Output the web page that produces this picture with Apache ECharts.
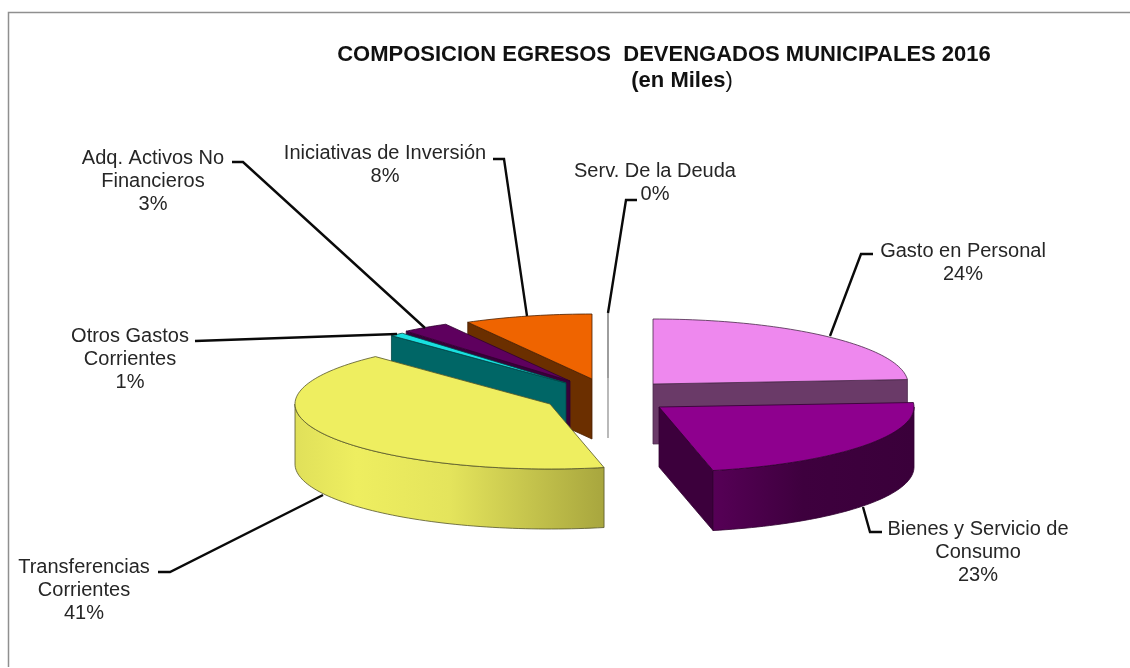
<!DOCTYPE html>
<html>
<head>
<meta charset="utf-8">
<style>html,body{margin:0;padding:0;background:#fff}#c{width:1130px;height:668px}</style>
<script src="https://cdn.jsdelivr.net/npm/echarts@6/dist/echarts.min.js"></script>
</head>
<body>
<div id="c"></div>
<script>
// ---- data ----
const categories = ['Gasto en Personal','Bienes y Servicio de\nConsumo','Transferencias\nCorrientes','Otros Gastos\nCorrientes','Adq. Activos No\nFinancieros','Iniciativas de Inversión','Serv. De la Deuda'];
const percentages = [23.9, 22.7, 41.4, 0.9, 3.0, 8.1, 0];

// ---- layout of the exploded 3D pie ----
const RX = 255, RY = 65, DEPTH = 60;
const centers = [[653,384],[659,407],[550,404],[566,383],[570,381],[592,379],[608,378]];
const paintOrder = [5, 6, 4, 3, 2, 0, 1]; // higher is nearer to the viewer
const labelAnchors = [[963,239.5],[978,517.5],[84,555.5],[130,324.5],[153,146.5],[385,141.5],[655,159.5]];
const leaders = [
  [[830,336],[861,254],[873,254]],
  [[863,507],[870,532],[882,532]],
  [[323,495],[170,572],[158,572]],
  [[397,334],[195,341]],
  [[425,328],[243,162],[232,162]],
  [[527,316],[504,159],[493,159]],
  [[608,313],[626,200],[637,200]]
];
// ---- colours ----
const topColors = ['#ee88ee','#8e008e','#eeee60','#19e0e0','#5e005e','#ef6400','#ffffff'];
const faceColors = ['#6a3a68','#3c003c','#eeee60','#006666','#38003a','#6b2f00','#ffffff'];
const wallStops = [
  [['#6a3a68',0],['#6a3a68',1]],
  [['#560056',0],['#3e003e',0.45],['#3a003a',1]],
  [['#e0e05a',0],['#eeee60',0.2],['#e4e45c',0.5],['#a8a63e',1]],
  [['#006666',0],['#006666',1]],
  [['#38003a',0],['#38003a',1]],
  [['#6b2f00',0],['#6b2f00',1]],
  [['#ffffff',0],['#ffffff',1]]
];
const strokes = ['#4a2a4a','#300030','#55552a','#004848','#300030','#4a2000','#8c8c8c'];

const total = percentages.reduce((a,b)=>a+b,0);
const startPct = percentages.map((_,i)=>percentages.slice(0,i).reduce((a,b)=>a+b,0));

function pt(c, deg, dy){
  const r = deg*Math.PI/180;
  return [c[0]+RX*Math.sin(r), c[1]-RY*Math.cos(r)+(dy||0)];
}
function arc(c, a, b, dy){
  const out=[], n=Math.max(2,Math.ceil(Math.abs(b-a)/1.5));
  for(let k=0;k<=n;k++) out.push(pt(c,a+(b-a)*k/n,dy));
  return out;
}
function renderItem(params, api){
  const i = api.value(0), v = api.value(1);
  const a = startPct[i]/total*360, b = a+v/total*360, c = centers[i];
  const z = paintOrder[i]*10;
  const sk = strokes[i], lw = v===0?1.2:0.8;
  const kids = [];
  const poly = (points, fill, zz) => ({type:'polygon', z2:z+zz, shape:{points}, style:{fill, stroke:sk, lineWidth:lw}});
  const low = [c[0],c[1]+DEPTH];
  // flat side faces: only those turned toward the viewer
  const sa = Math.sin(a*Math.PI/180), sb = Math.sin(b*Math.PI/180);
  if(v===0 || sa<-1e-6) kids.push(poly([c,pt(c,a),pt(c,a,DEPTH),low], faceColors[i], 0));
  if(sb>1e-6) kids.push(poly([c,pt(c,b),pt(c,b,DEPTH),low], faceColors[i], 0));
  // curved outer wall (only the part that faces the viewer)
  const w0 = Math.max(a,90), w1 = Math.min(b,270);
  if(w1>w0){
    const up = arc(c,w0,w1,0), dn = arc(c,w0,w1,DEPTH).reverse();
    const x0 = Math.min(...up.map(p=>p[0])), x1 = Math.max(...up.map(p=>p[0]));
    kids.push({type:'polygon', z2:z+1, shape:{points:up.concat(dn)}, style:{
      fill:new echarts.graphic.LinearGradient(x0,0,x1,0,wallStops[i].map(s=>({color:s[0],offset:s[1]})),true),
      stroke:sk, lineWidth:lw}});
  }
  // top surface
  kids.push(poly([c].concat(arc(c,a,b,0)), topColors[i], 2));
  // leader line and label
  kids.push({type:'polyline', z2:200, shape:{points:leaders[i]}, style:{fill:null, stroke:'#0a0a0a', lineWidth:2.4}});
  kids.push({type:'text', z2:210, style:{
    x:labelAnchors[i][0], y:labelAnchors[i][1],
    text:categories[i]+'\n'+Math.round(v)+'%',
    fill:'#262626', font:'20px "Liberation Sans", Arial, sans-serif',
    align:'center', verticalAlign:'top', lineHeight:23}});
  return {type:'group', children:kids};
}
const chart = echarts.init(document.getElementById('c'), null, {renderer:'canvas'});
const titleFont = '"Liberation Sans", Arial, sans-serif';
chart.setOption({
  animation:false,
  backgroundColor:'#ffffff',
  title:[{
    left:659, top:37, textAlign:'center',
    text:'COMPOSICION EGRESOS  DEVENGADOS MUNICIPALES 2016',
    textStyle:{color:'#111', fontFamily:titleFont, fontWeight:'bold', fontSize:22, lineHeight:26}
  },{
    left:677, top:63, textAlign:'center',
    text:'{b|(en Miles}{r|)}',
    textStyle:{color:'#111', fontFamily:titleFont, fontSize:22, lineHeight:26,
      rich:{
        b:{color:'#111', fontFamily:titleFont, fontWeight:'bold', fontSize:22, lineHeight:26},
        r:{color:'#111', fontFamily:titleFont, fontWeight:'normal', fontSize:22, lineHeight:26}
      }}
  }],
  graphic:[
    {type:'polyline', silent:true, shape:{points:[[8.5,667],[8.5,12.5],[1130,12.5]]}, style:{fill:null, stroke:'#8f8f8f', lineWidth:1.5}}
  ],
  series:[{
    type:'custom',
    coordinateSystem:'none',
    renderItem,
    encode:{value:[0,1]},
    clip:false,
    data:percentages.map((p,i)=>[i,p])
  }]
});
</script>
</body>
</html>
